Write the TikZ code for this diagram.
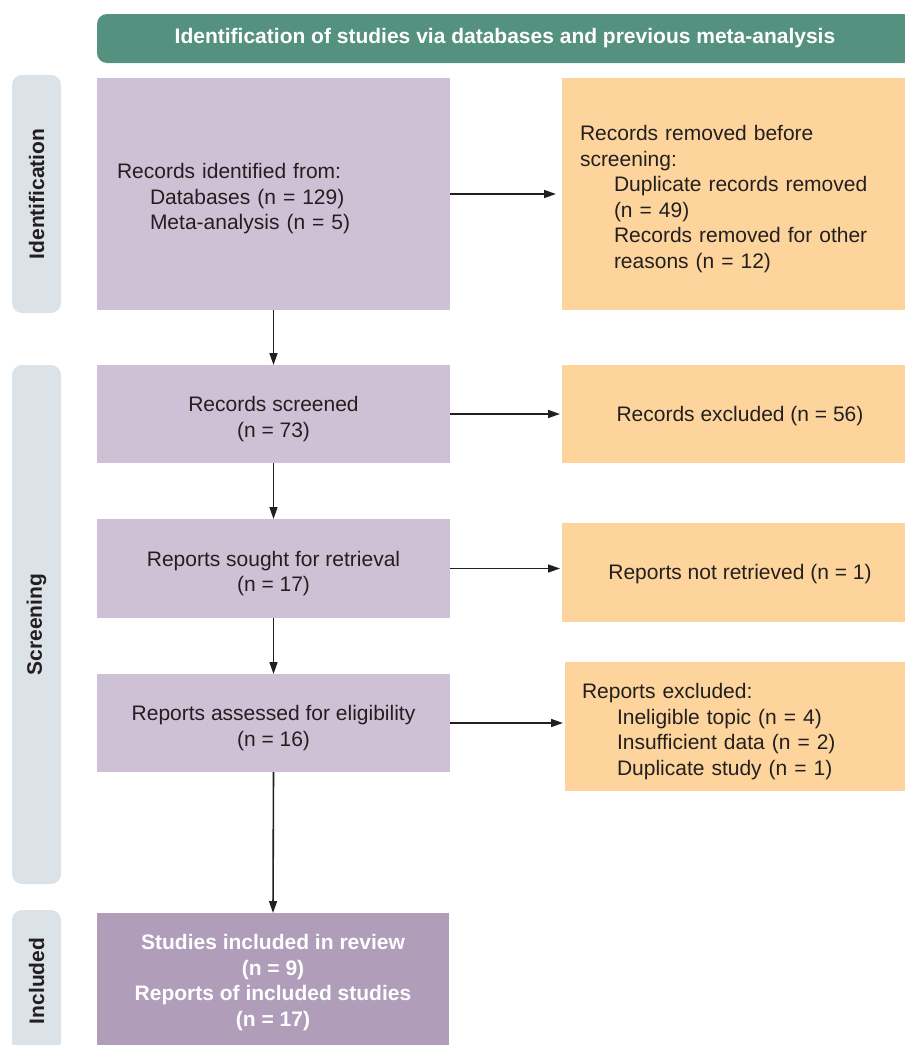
\documentclass[tikz,border=0pt]{standalone}
\usepackage{fontspec}
\setmainfont{Liberation Sans}
\usetikzlibrary{arrows.meta}
\definecolor{lpurple}{HTML}{CFC1D5}
\definecolor{dpurple}{HTML}{B09DBA}
\definecolor{orng}{HTML}{FDD59C}
\definecolor{teal}{HTML}{55917F}
\definecolor{sidegray}{HTML}{DBE2E8}
\definecolor{txt}{HTML}{231F20}
\newcommand{\lowr}{\rule{0pt}{25pt}}
\newcommand{\lowsingle}{\rule{0pt}{19pt}}
\tikzset{
  base/.style={font=\fontsize{21}{25.5}\selectfont, text=txt, inner sep=0pt, outer sep=0pt},
  pbox/.style={base, fill=lpurple, anchor=north west, minimum width=353pt},
  obox/.style={base, fill=orng, anchor=north west, minimum width=356pt},
  sidebox/.style={base, fill=sidegray, rounded corners=10pt, rotate=90, minimum height=49pt, font=\fontsize{21}{25.5}\selectfont\bfseries},
  arr/.style={line width=1.6pt, draw=txt, -{Triangle[length=12pt,width=8pt]}}
}
\begin{document}
\begin{tikzpicture}[x=1pt,y=1pt]
\clip (0,0) rectangle (905,-1045);
% header
\node[base, fill=teal, text=white, rounded corners=10pt, anchor=north west, minimum width=816pt, minimum height=49pt, font=\fontsize{21}{25.5}\selectfont\bfseries] (hdr) at (97,-14) {Identification of studies via databases and previous meta-analysis};
% side labels
\node[sidebox, minimum width=238pt] (sid) at (36.5,-194) {Identification};
\node[sidebox, minimum width=519pt] (sscr) at (36.5,-624.5) {Screening};
\node[sidebox, minimum width=142pt] (sinc) at (36.5,-981) {Included};
% left boxes
\node[pbox, minimum height=232pt, text width=313pt, align=left, inner xsep=20pt] (b1) at (97,-78)
  {\lowr Records identified from:\\\hspace*{33pt}Databases (n = 129)\\\hspace*{33pt}Meta-analysis (n = 5)};
\node[pbox, minimum height=98pt, align=center] (b2) at (97,-365) {\lowr Records screened\\(n = 73)};
\node[pbox, minimum height=99pt, align=center] (b3) at (97,-519) {\lowr Reports sought for retrieval\\(n = 17)};
\node[pbox, minimum height=98pt, align=center] (b4) at (97,-674) {\lowr Reports assessed for eligibility\\(n = 16)};
\node[pbox, fill=dpurple, text=white, minimum width=352pt, minimum height=140pt, align=center, font=\fontsize{21}{25.5}\selectfont\bfseries] (b5) at (97,-913)
  {\lowr Studies included in review\\(n = 9)\\Reports of included studies\\(n = 17)\rule[-15pt]{0pt}{1pt}};
% right boxes
\node[obox, minimum height=232pt, text width=320pt, align=left, inner xsep=18pt] (o1) at (562,-78)
  {\lowr Records removed before\\screening:\\\hspace*{34pt}Duplicate records removed\\\hspace*{34pt}(n = 49)\\\hspace*{34pt}Records removed for other\\\hspace*{34pt}reasons (n = 12)};
\node[obox, minimum height=98pt, align=center] (o2) at (562,-365) {\lowsingle Records excluded (n = 56)};
\node[obox, minimum height=99pt, align=center] (o3) at (562,-523) {\lowsingle Reports not retrieved (n = 1)};
\node[obox, minimum width=353pt, minimum height=129pt, text width=319pt, align=left, inner xsep=17pt] (o4) at (565,-662)
  {\lowr Reports excluded:\\\hspace*{35pt}Ineligible topic (n = 4)\\\hspace*{35pt}Insufficient data (n = 2)\\\hspace*{35pt}Duplicate study (n = 1)};
% arrows
\draw[arr, shorten >=6pt] (b1.east) -- (b1.east -| o1.west);
\draw[arr, shorten >=2pt] (b2.east) -- (b2.east -| o2.west);
\draw[arr, shorten >=2pt] (b3.east) -- (b3.east -| o3.west);
\draw[arr, shorten >=2pt] (b4.east) -- (b4.east -| o4.west);
\draw[arr] (b1.south) -- (b2.north);
\draw[arr] (b2.south) -- (b3.north);
\draw[arr] (b3.south) -- (b4.north);
\draw[arr] (b4.south) -- (b5.north);
\end{tikzpicture}
\end{document}
